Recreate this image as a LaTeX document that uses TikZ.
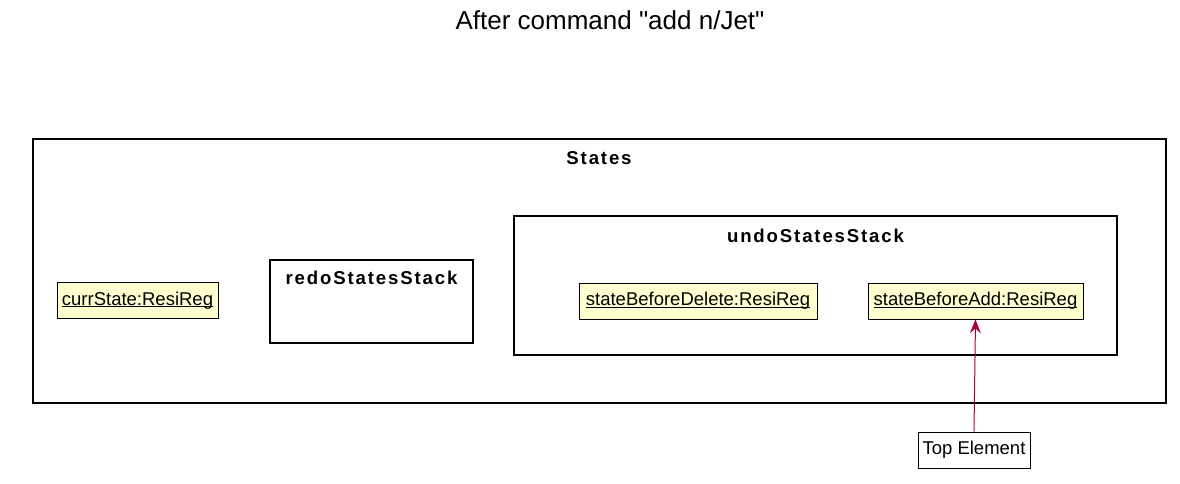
\documentclass[tikz,border=0pt]{standalone}
\usepackage{fontspec}
\setmainfont{Liberation Sans}
\newfontfamily\titlefont{Liberation Sans}[Ligatures=TeXOff]
\usetikzlibrary{arrows.meta}
\definecolor{objfill}{HTML}{FEFECE}
\definecolor{arrowred}{HTML}{A80036}
\newcommand{\ul}[1]{\setbox0\hbox{#1}\rlap{\rule[-1.8pt]{\wd0}{0.7pt}}\box0}
\tikzset{
  frame/.style={draw=black, line width=1.5pt},
  obj/.style={draw=black, fill=objfill, line width=0.8pt, minimum height=36pt, inner sep=0pt, font=\fontsize{18.5}{21}\selectfont},
  note/.style={draw=black, fill=white, line width=0.8pt, minimum height=36pt, inner sep=0pt, font=\fontsize{18.5}{21}\selectfont},
  flabel/.style={font=\fontsize{18.6}{21}\bfseries\addfontfeature{LetterSpace=10}\selectfont},
  link/.style={draw=arrowred, line width=1pt, -{Stealth[length=14pt,width=11pt,inset=5pt]}}
}
\begin{document}
\begin{tikzpicture}[x=1pt,y=-1pt]
\useasboundingbox (0,0) rectangle (1180,483);
\node (title) at (610,20) {\titlefont\fontsize{26}{30}\selectfont After command "add n/Jet"};
% States frame
\draw[frame] (33,139) rectangle (1166,403);
\node[flabel] (states) at (599,158) {States};
% currState
\node[obj, minimum width=161pt] (curr) at (137.5,300.5) {\ul{currState:ResiReg}};
% redo
\draw[frame] (270,260) rectangle (473,343);
\node[flabel] (redo) at (371.5,278) {redoStatesStack};
% undo
\draw[frame] (514,216) rectangle (1117,355);
\node[flabel] (undo) at (815.5,236) {undoStatesStack};
\node[obj, minimum width=238pt] (del) at (698,301) {\ul{stateBeforeDelete:ResiReg}};
\node[obj, minimum width=215pt] (add) at (975.5,301) {\ul{stateBeforeAdd:ResiReg}};
% note
\node[note, minimum width=112pt] (top) at (974,450) {Top Element};
\draw[link] (top.north) -- (add.south);
\end{tikzpicture}
\end{document}
